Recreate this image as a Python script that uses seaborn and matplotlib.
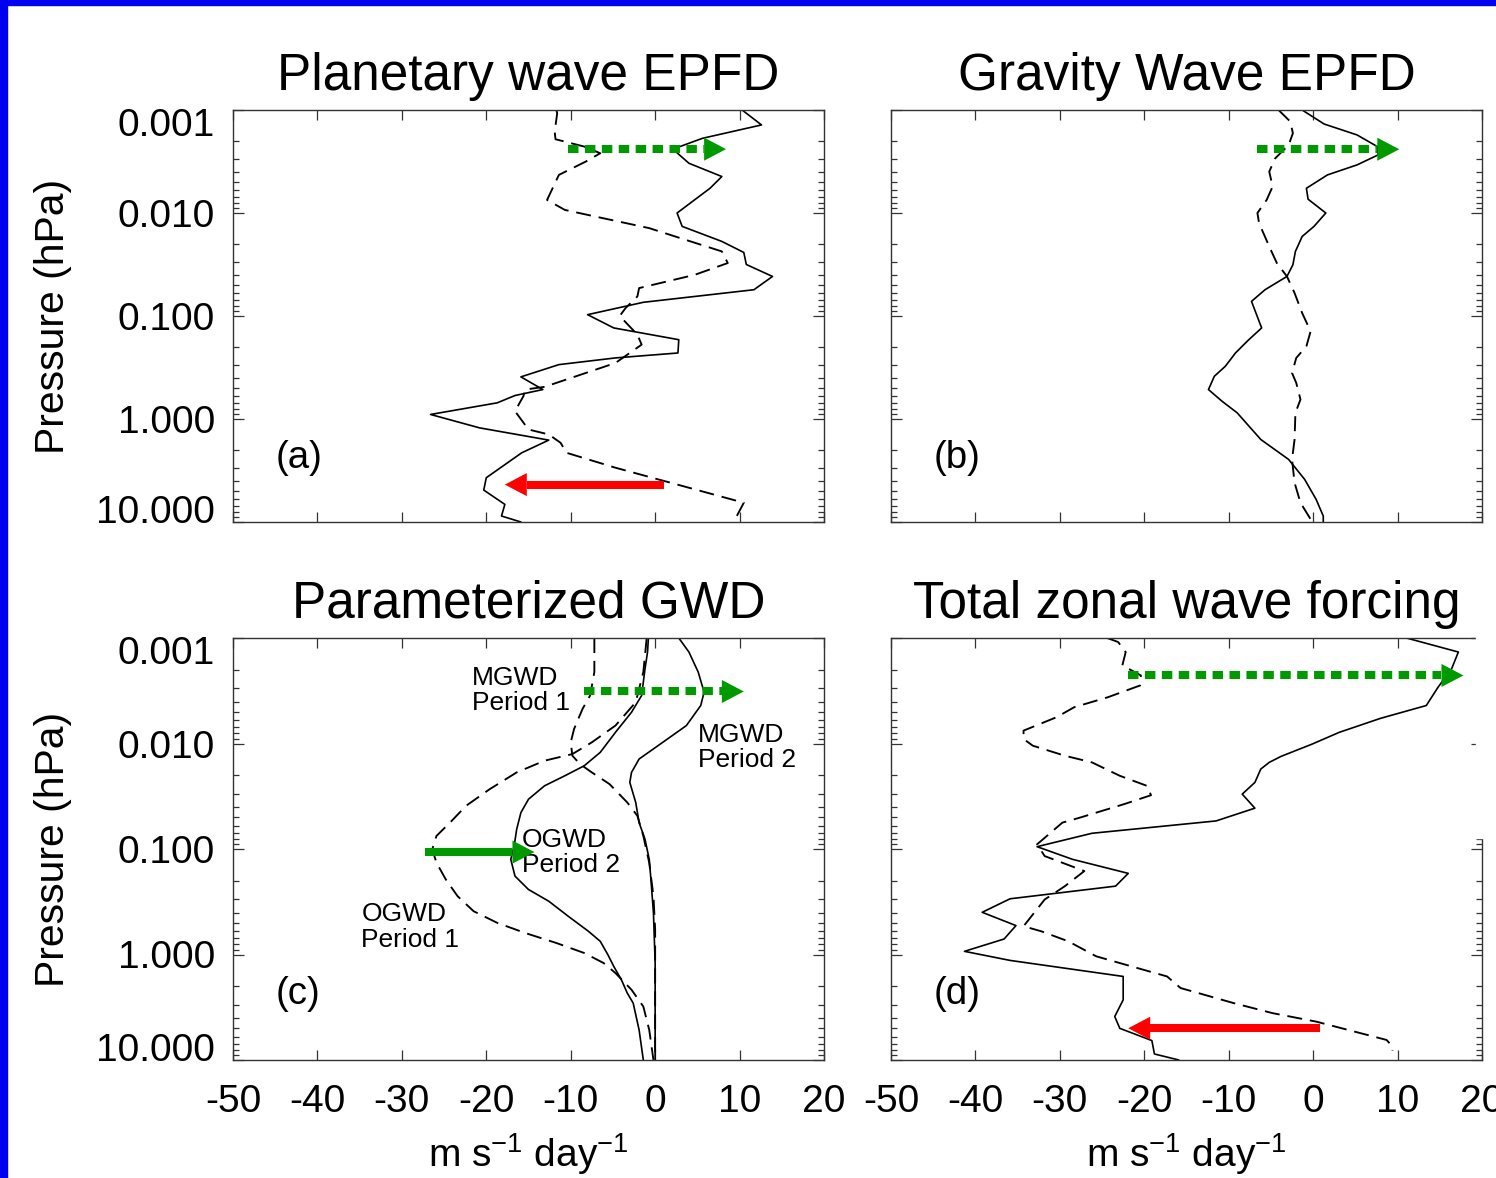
import numpy as np
import pandas as pd
import matplotlib
matplotlib.use("Agg")
import matplotlib.pyplot as plt
import seaborn as sns
from matplotlib.patches import Rectangle
from matplotlib.ticker import LogLocator, NullFormatter, NullLocator
from matplotlib.transforms import ScaledTranslation

sns.set_theme(style="white")
plt.rcParams["font.family"] = ["Liberation Sans", "DejaVu Sans"]
plt.rcParams["mathtext.fontset"] = "custom"
plt.rcParams["mathtext.rm"] = "Liberation Sans"
plt.rcParams["mathtext.it"] = "Liberation Sans:italic"
plt.rcParams["axes.unicode_minus"] = False

# ---------------- data (x in m s-1 day-1, y as log10 pressure in hPa) ----------------
titles = ["Planetary wave EPFD", "Gravity Wave EPFD", "Parameterized GWD", "Total zonal wave forcing"]
panel_tags = ["(a)", "(b)", "(c)", "(d)"]
x_ticks = [-50, -40, -30, -20, -10, 0, 10, 20]
x_tick_labels = ["-50", "-40", "-30", "-20", "-10", "0", "10", "20"]
y_ticks = [0.001, 0.01, 0.1, 1.0, 10.0]
y_tick_labels = ["0.001", "0.010", "0.100", "1.000", "10.000"]

# (a) Planetary wave EPFD
a_solid_x = [10.3, 12.6, 5.6, 2.1, 4.0, 7.9, 6.5, 2.6, 3.2, 7.9, 10.5, 10.8, 13.9, 11.7, -1.4, -8.0,
             -4.9, 2.8, 2.7, -4.7, -11.4, -15.9, -13.3, -16.6, -18.7, -26.6, -20.8, -12.6, -15.8,
             -20.0, -20.3, -17.8, -18.2, -15.9]
a_solid_lp = [-3.0, -2.855, -2.725, -2.62, -2.483, -2.354, -2.24, -2.0, -1.87, -1.724, -1.617, -1.50,
              -1.384, -1.255, -1.133, -1.013, -0.884, -0.770, -0.641, -0.593, -0.528, -0.409, -0.286,
              -0.228, -0.157, -0.044, 0.086, 0.205, 0.328, 0.570, 0.690, 0.829, 0.942, 1.0]
a_dash_x = [-11.7, -11.6, -11.9, -11.8, -8.4, -6.5, -8.2, -11.4, -12.8, -10.7, -7.5, -0.7, 4.2, 7.9,
            8.6, 4.7, -1.9, -2.1, -3.5, -4.2, -2.1, -1.6, -4.7, -13.1, -15.4, -15.6, -16.6, -15.0,
            -12.6, -11.2, -10.5, -4.7, 4.7, 10.5, 9.3]
a_dash_lp = [-3.0, -2.968, -2.79, -2.716, -2.645, -2.58, -2.50, -2.37, -2.127, -2.03, -1.973, -1.853,
             -1.724, -1.627, -1.514, -1.40, -1.271, -1.19, -1.077, -1.0, -0.819, -0.722, -0.544,
             -0.312, -0.286, -0.222, -0.076, 0.102, 0.15, 0.231, 0.328, 0.473, 0.683, 0.813, 1.0]

# (b) Gravity wave EPFD
b_solid_x = [-1.3, 1.3, 5.2, 7.6, 7.7, 5.2, 1.7, -0.8, -0.6, 1.5, 0.1, -1.3, -2.1, -2.4, -3.1, -5.7,
             -7.3, -6.1, -7.7, -9.2, -10.4, -11.7, -12.4, -10.8, -9.0, -6.2, -2.9, -1.0, 0.35, 1.2, 1.2]
b_solid_lp = [-3.0, -2.864, -2.758, -2.645, -2.564, -2.467, -2.37, -2.24, -2.134, -2.0, -1.87, -1.772,
              -1.627, -1.497, -1.384, -1.255, -1.142, -0.884, -0.764, -0.641, -0.512, -0.415, -0.286,
              -0.173, -0.060, 0.199, 0.393, 0.587, 0.78, 0.942, 1.0]
b_dash_x = [-4.1, -2.7, -2.4, -2.9, -4.5, -5.2, -4.8, -5.5, -6.6, -6.4, -5.2, -4.3, -3.1, -2.2, -1.3,
            -0.3, -0.8, -2.0, -2.5, -2.0, -1.5, -2.1, -2.2, -2.5, -2.2, -1.5, -0.1]
b_dash_lp = [-3.0, -2.887, -2.774, -2.66, -2.53, -2.402, -2.257, -2.128, -2.0, -1.90, -1.675, -1.514,
             -1.384, -1.223, -1.029, -0.851, -0.706, -0.593, -0.447, -0.35, -0.189, -0.060, 0.199,
             0.393, 0.619, 0.813, 1.0]

# (c) Parameterized GWD
ogwd1_x = [-1.0, -1.4, -2.3, -4.7, -7.5, -9.8, -13.1, -16.4, -19.6, -22.4, -24.3, -25.9, -26.4, -25.9,
           -24.8, -23.4, -21.5, -18.7, -15.4, -11.7, -8.4, -6.1, -4.7, -2.8, -1.4, -0.7, -0.2]
ogwd1_lp = [-3.0, -2.677, -2.391, -2.17, -2.011, -1.90, -1.837, -1.726, -1.567, -1.409, -1.25, -1.124,
            -0.997, -0.87, -0.712, -0.553, -0.41, -0.30, -0.204, -0.109, -0.014, 0.081, 0.176, 0.334,
            0.493, 0.715, 1.0]
mgwd1_x = [-7.2, -7.2, -7.7, -8.6, -9.6, -10.0, -9.8, -8.9, -7.5, -5.4, -3.3, -2.1, -1.4, -0.7, -0.2,
           0.0, 0.0]
mgwd1_lp = [-3.0, -2.677, -2.455, -2.328, -2.138, -2.011, -1.884, -1.805, -1.726, -1.615, -1.441, -1.314,
            -1.124, -0.87, -0.553, -0.236, 1.0]
ogwd2_x = [-0.8, -0.9, -1.2, -1.6, -2.8, -4.7, -6.5, -8.4, -10.7, -13.1, -15.0, -15.9, -16.4, -16.7,
           -17.1, -16.6, -15.0, -12.6, -10.3, -7.9, -6.5, -5.6, -4.9, -4.0, -3.3, -2.6, -1.9, -1.4]
ogwd2_lp = [-3.0, -2.867, -2.708, -2.455, -2.296, -2.106, -1.916, -1.789, -1.694, -1.599, -1.472, -1.345,
            -1.187, -1.029, -0.902, -0.743, -0.616, -0.505, -0.363, -0.22, -0.125, 0.002, 0.113, 0.239,
            0.366, 0.461, 0.715, 1.0]
mgwd2_x = [2.8, 4.0, 5.1, 5.8, 5.4, 3.7, 0.9, -1.9, -2.8, -3.0, -2.3, -1.9, -1.2, -0.7, -0.5, -0.2, 0.0, 0.0]
mgwd2_lp = [-3.0, -2.867, -2.677, -2.487, -2.36, -2.17, -2.011, -1.853, -1.726, -1.631, -1.441, -1.25,
            -1.092, -0.902, -0.712, -0.395, 0.081, 1.0]
c_label_text = ["MGWD\nPeriod 1", "MGWD\nPeriod 2", "OGWD\nPeriod 2", "OGWD\nPeriod 1"]
c_label_x = [-21.7, 5.1, -15.8, -34.8]
c_label_lp = [-2.502, -1.964, -0.965, -0.261]

# (d) Total zonal wave forcing
d_solid_x = [11.05, 17.2, 16.4, 14.8, 13.4, 8.0, 3.1, -0.1, -3.8, -5.2, -6.2, -6.9, -8.4, -6.9, -11.5,
             -26.2, -32.7, -28.5, -21.9, -23.4, -35.9, -39.2, -35.2, -36.6, -41.3, -35.9, -22.5, -22.5,
             -23.5, -22.9, -19.1, -18.8, -15.9]
d_solid_lp = [-3.0, -2.867, -2.708, -2.534, -2.36, -2.239, -2.106, -1.995, -1.878, -1.821, -1.758, -1.631,
              -1.52, -1.387, -1.266, -1.149, -1.022, -0.902, -0.769, -0.648, -0.528, -0.40, -0.274,
              -0.147, -0.03, 0.056, 0.208, 0.43, 0.588, 0.70, 0.816, 0.943, 1.0]
d_dash_x = [-24.4, -23.1, -22.2, -22.6, -20.4, -20.5, -24.3, -28.3, -30.4, -34.3, -34.3, -33.2, -29.4,
            -26.2, -22.9, -19.7, -19.2, -22.4, -27.6, -29.7, -32.7, -31.8, -27.1, -29.4, -31.8, -34.3,
            -32.2, -29.0, -25.7, -21.5, -17.3, -15.7, -9.4, -4.8, 0.35, 8.7, 9.4, 9.4]
d_dash_lp = [-3.0, -2.962, -2.867, -2.74, -2.645, -2.55, -2.439, -2.344, -2.249, -2.122, -2.043, -1.979,
             -1.884, -1.821, -1.694, -1.599, -1.51, -1.425, -1.298, -1.25, -1.044, -0.933, -0.791,
             -0.648, -0.521, -0.268, -0.22, -0.125, 0.017, 0.113, 0.208, 0.318, 0.461, 0.556, 0.636,
             0.81, 0.873, 0.91]

# arrows: panel index, start x, tip x, log10 p, colour, dotted?
arrow_panel = [0, 0, 1, 2, 2, 3, 3]
arrow_start = [-10.3, 1.0, -6.7, -8.4, -27.3, -21.9, 0.8]
arrow_tip = [8.4, -17.8, 10.2, 10.5, -14.3, 17.8, -21.9]
arrow_lp = [-2.62, 0.637, -2.619, -2.493, -0.971, -2.645, 0.699]
arrow_color = ["#009900", "#ff0000", "#009900", "#009900", "#009900", "#009900", "#ff0000"]
arrow_dotted = [True, False, True, True, False, True, False]

curves = [
    [(a_solid_x, a_solid_lp, False), (a_dash_x, a_dash_lp, True)],
    [(b_solid_x, b_solid_lp, False), (b_dash_x, b_dash_lp, True)],
    [(ogwd1_x, ogwd1_lp, True), (mgwd1_x, mgwd1_lp, True), (ogwd2_x, ogwd2_lp, False), (mgwd2_x, mgwd2_lp, False)],
    [(d_solid_x, d_solid_lp, False), (d_dash_x, d_dash_lp, True)],
]

# ---------------- figure ----------------
W, H = 1496, 1178
fig = plt.figure(figsize=(W / 100, H / 100), dpi=100)
fig.patch.set_facecolor("white")

def px_rect(l, t, r, b):
    return [l / W, 1 - b / H, (r - l) / W, (b - t) / H]

ax_rects = [px_rect(233, 110, 824, 522), px_rect(891, 110, 1482, 522),
            px_rect(233, 638, 824, 1060), px_rect(891, 638, 1482, 1060)]
axes = [fig.add_axes(r) for r in ax_rects]

TICK_FS = 28
for i, ax in enumerate(axes):
    for xs, lps, dashed in curves[i]:
        df = pd.DataFrame({"x": xs, "p": np.power(10.0, lps)})
        if dashed:
            sns.lineplot(data=df, x="x", y="p", sort=False, estimator=None, ax=ax, color="black",
                         linewidth=1.35, linestyle=(0, (8, 4.2)))
        else:
            sns.lineplot(data=df, x="x", y="p", sort=False, estimator=None, ax=ax, color="black",
                         linewidth=1.2, linestyle="-")
    ax.set_yscale("log")
    ax.set_xlim(-50, 20)
    ax.set_ylim(10, 0.001)
    ax.set_xticks(x_ticks)
    ax.xaxis.set_minor_locator(NullLocator())
    ax.set_yticks(y_ticks)
    ax.yaxis.set_minor_locator(LogLocator(base=10, subs=np.arange(2, 10)))
    ax.yaxis.set_minor_formatter(NullFormatter())
    ax.set_xticklabels(x_tick_labels)
    ax.set_yticklabels(y_tick_labels)
    ax.tick_params(which="both", direction="in", top=True, right=True, bottom=True, left=True,
                   color="#333333", width=0.9, labelsize=TICK_FS, labelcolor="black")
    ax.tick_params(axis="y", which="major", length=8, pad=13)
    ax.tick_params(axis="y", which="minor", length=4.3)
    ax.tick_params(axis="x", which="major", length=7, pad=17.5)
    for s in ax.spines.values():
        s.set_color("#333333")
        s.set_linewidth(1.0)
    ax.set_xlabel("")
    ax.set_ylabel("")
    ax.set_title(titles[i], fontsize=37, pad=14.5, color="black")
    ax.text(-45.0, 10 ** 0.375, panel_tags[i], fontsize=27.7, ha="left", va="center", color="black")
    ax.grid(False)
    ax.set_facecolor("white")
    if i in (1, 3):
        ax.tick_params(labelleft=False)
    if i in (0, 1):
        ax.tick_params(labelbottom=False)
    if i in (0, 2):
        ax.set_ylabel("Pressure (hPa)", fontsize=29.4, color="black")
        ax.yaxis.set_label_coords(-0.273, 0.5)
    if i in (2, 3):
        ax.set_xlabel(r"m s$^{-1}$ day$^{-1}$", fontsize=28, color="black")
        ax.xaxis.set_label_coords(0.5, -0.168)

# annotations in panel (c)
for txt, x, lp in zip(c_label_text, c_label_x, c_label_lp):
    axes[2].text(x, 10 ** lp, txt, fontsize=19, ha="left", va="center", linespacing=1.08, color="black")

# arrows
HEAD_LEN_PX = 22
for pi, x0, x1, lp, col, dotted in zip(arrow_panel, arrow_start, arrow_tip, arrow_lp, arrow_color, arrow_dotted):
    ax = axes[pi]
    y = 10 ** lp
    direction = np.sign(x1 - x0)
    head_len = HEAD_LEN_PX / (591 / 70)
    xb = x1 - direction * head_len
    if dotted:
        ax.plot([x0, xb], [y, y], color=col, lw=5.8, linestyle=(0, (1.3, 0.8)),
                dash_capstyle="butt", solid_capstyle="butt", clip_on=False, zorder=5)
    else:
        ax.plot([x0, xb], [y, y], color=col, lw=5.8, solid_capstyle="butt", clip_on=False, zorder=5)
    ax.annotate("", xy=(x1, y), xytext=(xb, y),
                arrowprops=dict(arrowstyle="-|>,head_length=15.8,head_width=8.3", mutation_scale=1,
                                lw=0, color=col, shrinkA=0, shrinkB=0),
                annotation_clip=False, zorder=6)

# shift the end y tick labels inward, like the original
for ax in (axes[0], axes[2]):
    labs = ax.yaxis.get_majorticklabels()
    labs[0].set_transform(labs[0].get_transform() + ScaledTranslation(0, -0.12, fig.dpi_scale_trans))
    labs[-1].set_transform(labs[-1].get_transform() + ScaledTranslation(0, 0.13, fig.dpi_scale_trans))

# blue slide frame and the white patch over the right edge of panel (d)
fig.add_artist(Rectangle((0, 0), 7 / W, 1, transform=fig.transFigure, color="#0000f0", zorder=20))
fig.add_artist(Rectangle((0, 1 - 5 / H), 1, 5 / H, transform=fig.transFigure, color="#0000f0", zorder=20))
fig.add_artist(Rectangle((1476 / W, 1 - 838 / H), 20 / W, (838 - 631) / H, transform=fig.transFigure,
                         color="white", zorder=20))

fig.savefig("out.png", dpi=100, facecolor="white")
